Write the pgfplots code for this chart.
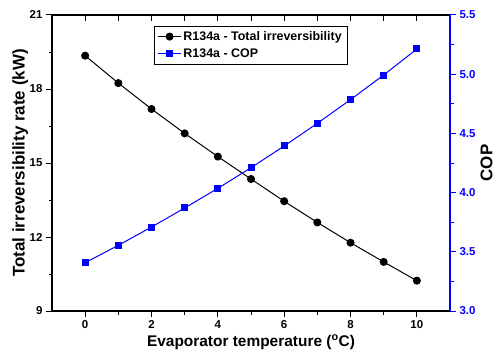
\documentclass[border=0pt]{standalone}
\usepackage{fontspec}
\setmainfont{Liberation Sans}
\usepackage{pgfplots}
\pgfplotsset{compat=1.18}
\pgfplotstableread{
x irr cop
0 19.35 3.408
1 18.24 3.555
2 17.19 3.709
3 16.20 3.870
4 15.26 4.036
5 14.35 4.210
6 13.45 4.394
7 12.59 4.585
8 11.77 4.785
9 10.99 4.993
10 10.23 5.213
}\datatable
\begin{document}
\begin{tikzpicture}[x=1bp,y=1bp]
\useasboundingbox (0,0) rectangle (495,356);
\pgfplotsset{
 common/.style={
  at={(52bp,45bp)}, anchor=south west, scale only axis,
  width=398bp, height=296bp,
  xmin=-1, xmax=11,
  /pgf/number format/assume math mode=true,
  tick label style={font=\fontsize{11.5}{13}\selectfont\bfseries},
 }
}
\begin{axis}[common,
 ymin=9, ymax=21,
 xtick={0,2,4,6,8,10}, minor xtick={1,3,5,7,9},
 ytick={9,12,15,18,21}, minor ytick={10.5,13.5,16.5,19.5},
 xticklabels={\textbf{0},\textbf{2},\textbf{4},\textbf{6},\textbf{8},\textbf{10}},
 yticklabels={\textbf{9},\textbf{12},\textbf{15},\textbf{18},\textbf{21}},
 xtick pos=left, ytick pos=left, tick align=outside,
 major tick length=6bp, minor tick length=3.5bp,
 every tick/.style={black, line width=1pt},
 axis line style={line width=1.2pt},
 xlabel={Evaporator temperature (\textsuperscript{o}C)},
 ylabel={Total irreversibility rate (kW)},
 every axis x label/.style={at={(axis description cs:0.5,-0.105)}, anchor=center,
   font=\fontsize{15.5}{17}\selectfont\bfseries},
 every axis y label/.style={at={(axis description cs:-0.080,0.5)}, rotate=90, anchor=center,
   font=\fontsize{17}{19}\selectfont\bfseries},
]
\addplot[black, line width=1pt, mark=*, mark size=3.5bp] table[x=x,y=irr]{\datatable};
\end{axis}
\begin{axis}[common,
 ymin=3, ymax=5.5,
 axis y line*=right, axis x line*=top,
 xtick={0,1,2,3,4,5,6,7,8,9,10}, xticklabels={},
 xtick align=inside, ytick align=outside,
 major tick length=6bp, minor tick length=3.5bp,
 ytick={3,3.5,4,4.5,5,5.5}, minor ytick={3.25,3.75,4.25,4.75,5.25},
 yticklabels={\textbf{3.0},\textbf{3.5},\textbf{4.0},\textbf{4.5},\textbf{5.0},\textbf{5.5}},
 yticklabel style={blue},
 axis line style={-, line width=1.2pt},
 x axis line style={black},
 y axis line style={blue},
 xtick style={black, line width=1pt},
 ytick style={blue, line width=1pt},
 ylabel={COP},
 every axis y label/.style={at={(axis description cs:1.092,0.5)}, rotate=90, anchor=center,
   font=\fontsize{17}{19}\selectfont\bfseries},
 legend style={at={(axis description cs:0.256,0.963)}, anchor=north west,
   draw=black, line width=0.8pt, font=\fontsize{12.5}{14}\selectfont\bfseries,
   inner xsep=3.5pt, inner ysep=3pt, row sep=3pt},
 legend cell align=left,
 legend image code/.code={%
   \draw[mark repeat=2,mark phase=2,#1] plot coordinates {(0cm,0cm) (0.4cm,0cm) (0.8cm,0cm)};},
]
\addlegendimage{black, line width=1pt, mark=*, mark size=3.5bp}
\addlegendentry{R134a - Total irreversibility}
\addplot[blue, line width=1pt, mark=square*, mark size=3bp] table[x=x,y=cop]{\datatable};
\addlegendentry{R134a - COP}
\end{axis}
\end{tikzpicture}
\end{document}
